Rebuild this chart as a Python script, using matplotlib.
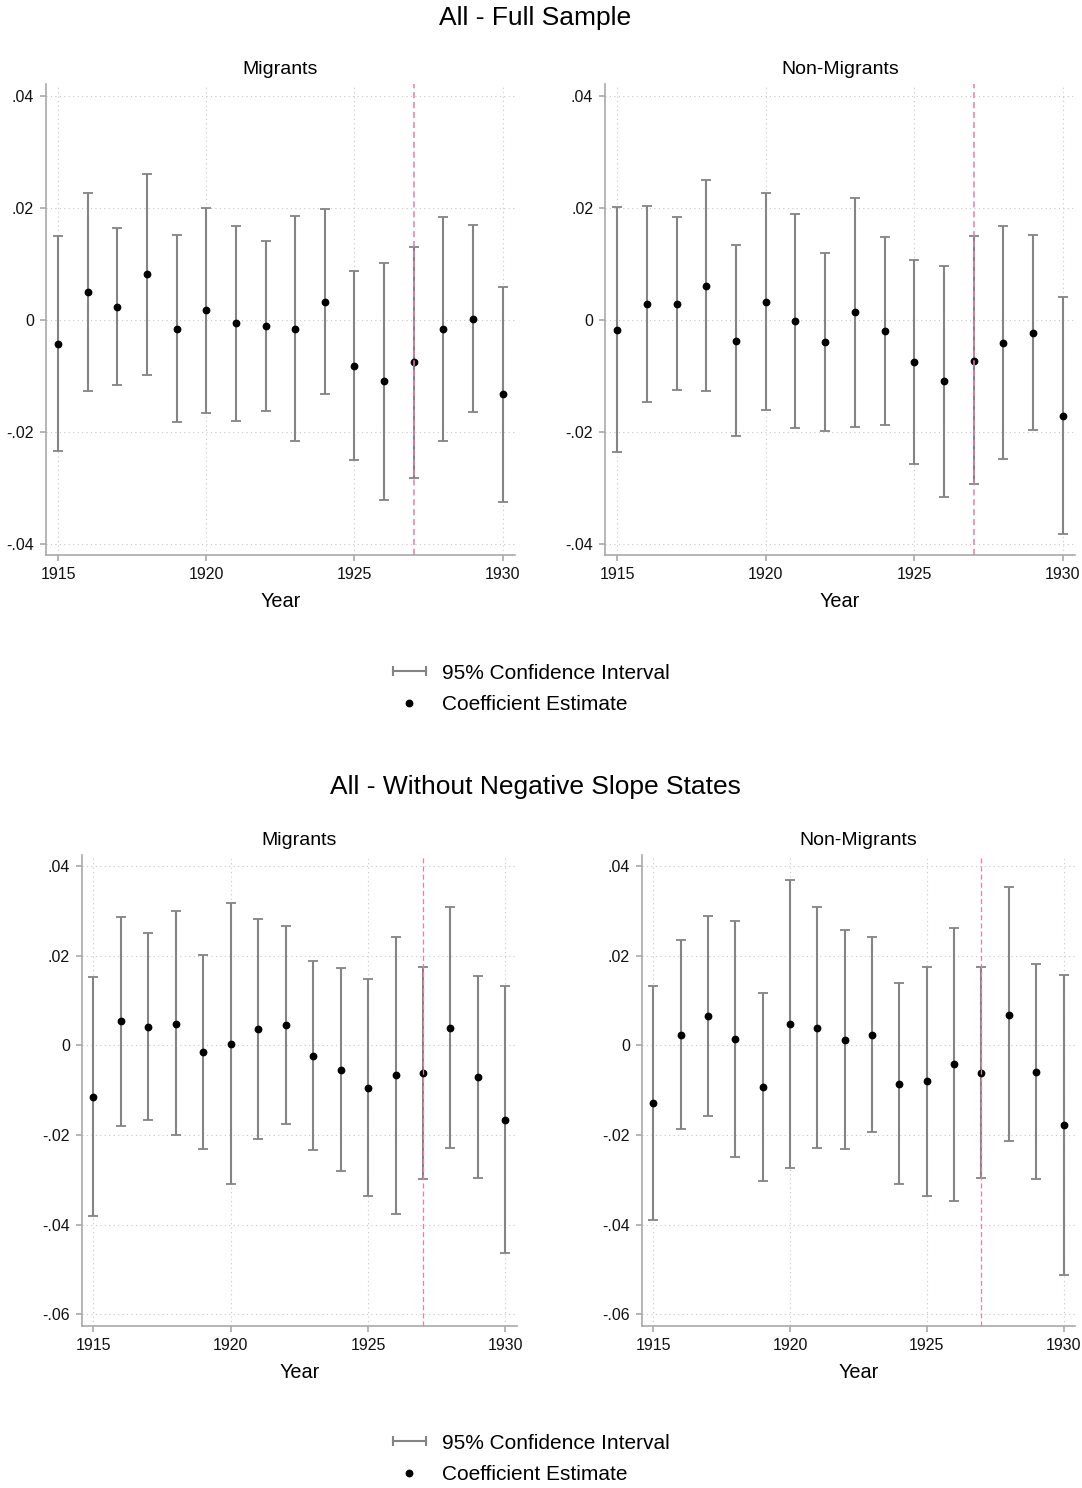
import matplotlib
matplotlib.use("Agg")
import matplotlib.pyplot as plt
from matplotlib.lines import Line2D
from matplotlib.legend_handler import HandlerLine2D
from matplotlib.ticker import FuncFormatter

plt.rcParams['font.family'] = ['Liberation Sans', 'DejaVu Sans']

years = list(range(1915, 1931))

# All - Full Sample, Migrants
fm_coef = [-0.0043, 0.0051, 0.0023, 0.0082, -0.0016, 0.0018, -0.0005, -0.0010,
           -0.0016, 0.0033, -0.0082, -0.0109, -0.0075, -0.0016, 0.0002, -0.0132]
fm_hi = [0.0150, 0.0227, 0.0164, 0.0262, 0.0153, 0.0201, 0.0169, 0.0141,
         0.0187, 0.0198, 0.0088, 0.0103, 0.0131, 0.0185, 0.0170, 0.0060]
fm_lo = [-0.0234, -0.0126, -0.0116, -0.0098, -0.0182, -0.0165, -0.0179, -0.0161,
         -0.0216, -0.0132, -0.0250, -0.0320, -0.0281, -0.0215, -0.0164, -0.0324]

# All - Full Sample, Non-Migrants
fn_coef = [-0.0017, 0.0029, 0.0030, 0.0062, -0.0036, 0.0033, -0.0001, -0.0039,
           0.0014, -0.0019, -0.0075, -0.0109, -0.0072, -0.0040, -0.0022, -0.0171]
fn_hi = [0.0202, 0.0204, 0.0185, 0.0251, 0.0134, 0.0228, 0.0190, 0.0120,
         0.0219, 0.0148, 0.0107, 0.0097, 0.0150, 0.0168, 0.0152, 0.0042]
fn_lo = [-0.0235, -0.0146, -0.0125, -0.0126, -0.0206, -0.0160, -0.0193, -0.0197,
         -0.0191, -0.0187, -0.0256, -0.0315, -0.0292, -0.0247, -0.0195, -0.0382]

# All - Without Negative Slope States, Migrants
wm_coef = [-0.0114, 0.0054, 0.0042, 0.0049, -0.0015, 0.0003, 0.0037, 0.0045,
           -0.0023, -0.0055, -0.0095, -0.0067, -0.0061, 0.0040, -0.0071, -0.0166]
wm_hi = [0.0153, 0.0287, 0.0250, 0.0299, 0.0202, 0.0317, 0.0283, 0.0266,
         0.0189, 0.0172, 0.0148, 0.0243, 0.0175, 0.0309, 0.0155, 0.0132]
wm_lo = [-0.0380, -0.0179, -0.0166, -0.0200, -0.0231, -0.0309, -0.0208, -0.0176,
         -0.0234, -0.0281, -0.0336, -0.0375, -0.0298, -0.0228, -0.0295, -0.0463]

# All - Without Negative Slope States, Non-Migrants
wn_coef = [-0.0128, 0.0024, 0.0066, 0.0014, -0.0092, 0.0048, 0.0040, 0.0012,
           0.0024, -0.0086, -0.0080, -0.0042, -0.0061, 0.0069, -0.0059, -0.0177]
wn_hi = [0.0133, 0.0235, 0.0289, 0.0278, 0.0118, 0.0370, 0.0309, 0.0257,
         0.0243, 0.0139, 0.0176, 0.0263, 0.0174, 0.0353, 0.0181, 0.0157]
wn_lo = [-0.0389, -0.0186, -0.0158, -0.0248, -0.0302, -0.0274, -0.0228, -0.0231,
         -0.0194, -0.0310, -0.0336, -0.0346, -0.0295, -0.0214, -0.0298, -0.0512]

cutoff_year = 1927

W, H = 1082, 1488
fig = plt.figure(figsize=(W / 100, H / 100), dpi=100)

ci_col = '#848484'
axis_col = '#a9a9a9'
line_col = '#e27fad'


def fmt(v, pos):
    if abs(v) < 1e-9:
        return '0'
    s = '%.2f' % v
    return s.replace('0.', '.')


def panel(px, title, coef, lo, hi, yticks, ylim, dashw):
    x0, x1, top, bot = px
    ax = fig.add_axes([x0 / W, 1 - bot / H, (x1 - x0) / W, (bot - top) / H])
    lower = [c - l for c, l in zip(coef, lo)]
    upper = [h - c for c, h in zip(coef, hi)]
    ax.errorbar(years, coef, yerr=[lower, upper], fmt='none', ecolor=ci_col,
                elinewidth=1.5, capsize=3.6, capthick=1.3, zorder=3)
    ax.plot(years, coef, 'o', color='black', markersize=4.6, zorder=4)
    ax.axvline(cutoff_year, color=line_col, linestyle=(0, (4, 2.5)), linewidth=dashw, zorder=5)
    ax.set_xlim(1914.58, 1930.42)
    ax.set_ylim(*ylim)
    ax.set_xticks([1915, 1920, 1925, 1930])
    ax.set_yticks(yticks)
    ax.yaxis.set_major_formatter(FuncFormatter(fmt))
    ax.grid(True, linestyle=(0, (1, 3)), color='#c8c8c8', linewidth=0.8)
    ax.set_axisbelow(True)
    for s in ['top', 'right']:
        ax.spines[s].set_visible(False)
    for s in ['left', 'bottom']:
        ax.spines[s].set_color(axis_col)
        ax.spines[s].set_linewidth(1.2)
    ax.tick_params(colors=axis_col, labelcolor='#111111', labelsize=11.5,
                   length=4, width=1.2, pad=4.5)
    ax.set_title(title, fontsize=14, pad=7)
    ax.set_xlabel('Year', fontsize=14.3, labelpad=7)
    return ax


top_ylim = (-0.0419, 0.0422)
bot_ylim = (-0.0626, 0.0425)
top_ticks = [-0.04, -0.02, 0, 0.02, 0.04]
bot_ticks = [-0.06, -0.04, -0.02, 0, 0.02, 0.04]

panel((45.7, 515, 84, 555), 'Migrants', fm_coef, fm_lo, fm_hi, top_ticks, top_ylim, 1.1)
panel((605, 1075, 84, 555), 'Non-Migrants', fn_coef, fn_lo, fn_hi, top_ticks, top_ylim, 1.1)
panel((81.7, 517, 855, 1326), 'Migrants', wm_coef, wm_lo, wm_hi, bot_ticks, bot_ylim, 0.9)
panel((641.7, 1075, 855, 1326), 'Non-Migrants', wn_coef, wn_lo, wn_hi, bot_ticks, bot_ylim, 0.9)

fig.text(535 / W, 1 - 18 / H, 'All - Full Sample', ha='center', va='center', fontsize=19)
fig.text(535 / W, 1 - 787 / H, 'All - Without Negative Slope States', ha='center', va='center', fontsize=19)

ci_handle = Line2D([], [], color=ci_col, linewidth=1.5, marker='|', markersize=7,
                   markeredgewidth=1.5)
pt_handle = Line2D([], [], color='black', linestyle='none', marker='o', markersize=4.6)

for yc in [689, 1459]:
    fig.legend([ci_handle, pt_handle], ['95% Confidence Interval', 'Coefficient Estimate'],
               loc='center', bbox_to_anchor=(528 / W, 1 - yc / H), frameon=False,
               fontsize=15, handlelength=2.2, handletextpad=0.45, labelspacing=0.6,
               handler_map={ci_handle: HandlerLine2D(numpoints=2)})

fig.savefig('out.png', dpi=100)
